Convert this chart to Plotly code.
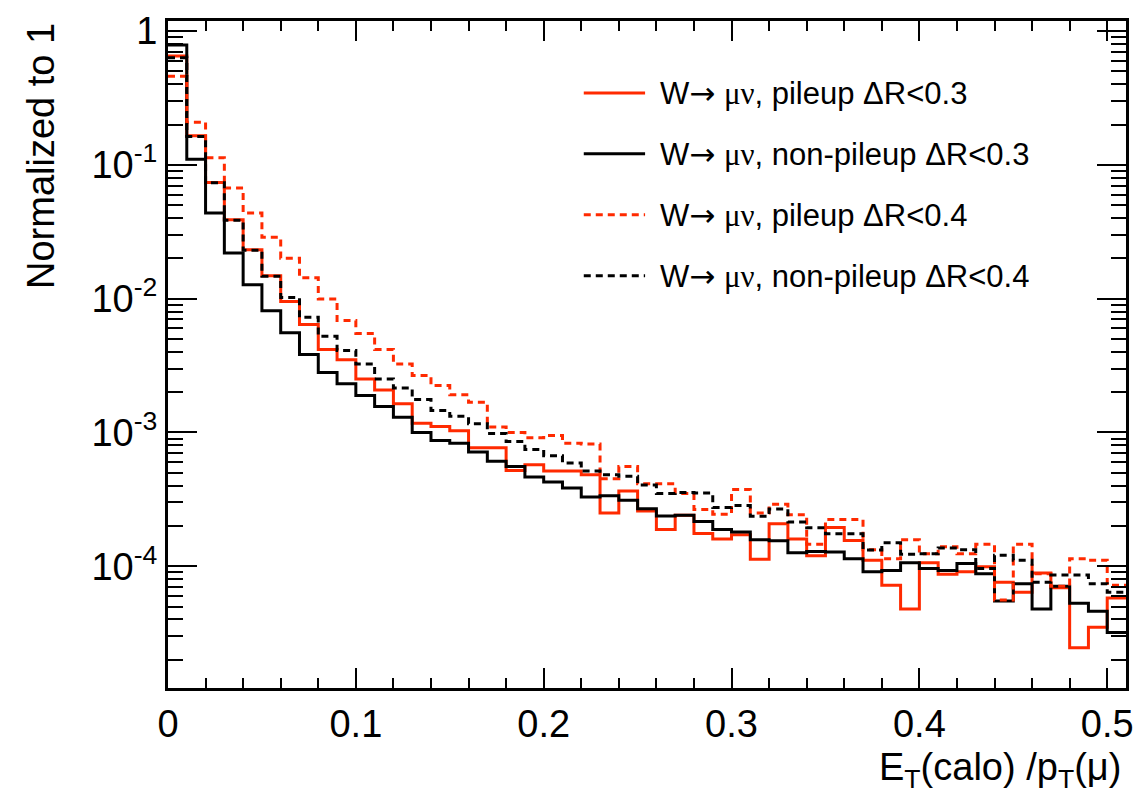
import plotly.graph_objects as go

# ---------------- data ----------------
bin_width = 0.01
n_bins = 51
bin_edges = [round(bin_width * i, 2) for i in range(n_bins + 1)]

pileup_03 = [0.65, 0.165, 0.0738, 0.0389, 0.0232, 0.0148, 0.0095, 0.0064, 0.00416, 0.0035,
             0.00251, 0.00208, 0.00164, 0.00117, 0.00111, 0.00103, 0.00077, 0.00077, 0.00052, 0.000574,
             0.000514, 0.000514, 0.000483, 0.00025, 0.000365, 0.000259, 0.000188, 0.00024, 0.000176, 0.00016,
             0.000172, 0.000113, 0.000208, 0.00016, 0.00012, 0.000195, 0.000156, 0.000111, 7.2e-5, 4.8e-5,
             0.000106, 8.7e-5, 9.1e-5, 9.9e-5, 7.6e-5, 6.4e-5, 8.9e-5, 6.9e-5, 2.46e-5, 3.5e-5,
             5.8e-5]

nonpileup_03 = [0.787, 0.110, 0.0436, 0.0219, 0.0127, 0.00813, 0.00557, 0.00382, 0.00281, 0.00231,
                0.00189, 0.00156, 0.0013, 0.0010, 0.00087, 0.000832, 0.000713, 0.00061, 0.000557, 0.000464,
                0.000426, 0.000384, 0.000329, 0.000337, 0.000311, 0.000269, 0.000237, 0.000241, 0.000216, 0.000188,
                0.00018, 0.000158, 0.000155, 0.000126, 0.000129, 0.000128, 0.000114, 9.1e-5, 9.3e-5, 0.000106,
                9.6e-5, 9.3e-5, 0.000105, 8.8e-5, 5.5e-5, 7.4e-5, 4.8e-5, 7.1e-5, 5.3e-5, 4.6e-5,
                3.2e-5]

pileup_04 = [0.46, 0.208, 0.113, 0.067, 0.0436, 0.0287, 0.0200, 0.0143, 0.00995, 0.00685,
             0.0055, 0.00416, 0.00325, 0.00266, 0.00224, 0.00191, 0.00168, 0.0011, 0.001, 0.000912,
             0.00095, 0.000832, 0.00082, 0.000451, 0.000557, 0.000414, 0.000414, 0.000349, 0.000265, 0.000245,
             0.000374, 0.00025, 0.00029, 0.000243, 0.000146, 0.000224, 0.000224, 0.000133, 0.000114, 0.000158,
             0.000124, 0.00014, 0.000124, 0.000146, 5.6e-5, 0.000146, 8.8e-5, 7.1e-5, 0.000114, 0.000111,
             7.2e-5]

nonpileup_04 = [0.632, 0.163, 0.0735, 0.0385, 0.0230, 0.0147, 0.0102, 0.00725, 0.00523, 0.00409,
                0.00325, 0.00251, 0.00215, 0.00176, 0.00146, 0.00132, 0.00116, 0.00098, 0.000857, 0.000747,
                0.00067, 0.00059, 0.000514, 0.000483, 0.00047, 0.000405, 0.00035, 0.000355, 0.000353, 0.000275,
                0.000285, 0.000236, 0.000268, 0.000214, 0.000194, 0.000175, 0.000175, 0.000132, 0.00015, 0.000123,
                0.000124, 0.000137, 0.000133, 9.6e-5, 0.000121, 0.000111, 7.6e-5, 8.6e-5, 8.6e-5, 7.4e-5,
                6.4e-5]

series_labels = ["pileup \u0394R<0.3", "non-pileup \u0394R<0.3",
                 "pileup \u0394R<0.4", "non-pileup \u0394R<0.4"]
series_names = ["W\u2192 \u03bc\u03bd, " + s for s in series_labels]
series_values = [pileup_03, nonpileup_03, pileup_04, nonpileup_04]

y_tick_vals = [1, 0.1, 0.01, 0.001, 0.0001]
y_tick_text = ["1", "10<sup>-1</sup>", "10<sup>-2</sup>", "10<sup>-3</sup>", "10<sup>-4</sup>"]

# ---------------- style ----------------
RED = "#ff2a00"
BLACK = "#000000"
styles = [dict(color=RED, dash="solid"),
          dict(color=BLACK, dash="solid"),
          dict(color=RED, dash="7px,5px"),
          dict(color=BLACK, dash="7px,5px")]
FONT = "Liberation Sans, Arial, Helvetica, sans-serif"

fig = go.Figure()
for name, vals, st in zip(series_names, series_values, styles):
    xs = bin_edges[:-1] + [bin_edges[-1]]
    ys = list(vals) + [vals[-1]]
    fig.add_trace(go.Scatter(x=xs, y=ys, mode="lines", name=name,
                             line=dict(shape="hv", width=3, color=st["color"], dash=st["dash"]),
                             showlegend=False))

# minor log ticks
minor_vals = []
for k in range(-5, 1):
    for m in range(2, 10):
        minor_vals.append(m * 10 ** k)

fig.update_xaxes(range=[0, 0.51], showline=True, linecolor="black", linewidth=3, mirror="allticks",
                 ticks="inside", ticklen=20, tickwidth=2, tickcolor="black",
                 tick0=0, dtick=0.1, showgrid=False, zeroline=False,
                 minor=dict(ticks="inside", ticklen=10, tickwidth=2, tickcolor="black", dtick=0.02, showgrid=False),
                 tickfont=dict(family=FONT, size=38, color="black"))
fig.update_yaxes(type="log", range=[-4.91, 0.075], showline=True, linecolor="black", linewidth=3,
                 mirror="allticks", ticks="inside", ticklen=29, tickwidth=2, tickcolor="black",
                 tickmode="array", tickvals=y_tick_vals, ticktext=y_tick_text,
                 showgrid=False, zeroline=False,
                 minor=dict(ticks="inside", ticklen=15, tickwidth=2, tickcolor="black",
                            tickmode="array", tickvals=minor_vals, showgrid=False),
                 tickfont=dict(family=FONT, size=38, color="black"))

# legend drawn manually
leg_y = [0.892, 0.801, 0.7096, 0.618]
for lab, st, yy in zip(series_labels, styles, leg_y):
    fig.add_shape(type="line", xref="paper", yref="paper", x0=0.434, x1=0.498, y0=yy, y1=yy,
                  line=dict(color=st["color"], width=3, dash=st["dash"]))
    txt = ("W<span style=\"font-family:'DejaVu Sans'\">\u2192</span> "
           "<span style=\"font-family:'Liberation Serif'\">\u03bc\u03bd</span>, " + lab)
    fig.add_annotation(xref="paper", yref="paper", x=0.511, y=yy, text=txt, showarrow=False,
                       xanchor="left", yanchor="middle", font=dict(family=FONT, size=31, color="black"))

# axis titles
fig.add_annotation(xref="paper", yref="paper", x=-0.1326, y=1.0, text="Normalized to 1",
                   textangle=-90, showarrow=False, xanchor="center", yanchor="top",
                   font=dict(family=FONT, size=38, color="black"))
fig.add_annotation(xref="paper", yref="paper", x=0.997, y=-0.1228,
                   text="E<sub>T</sub>(calo) /p<sub>T</sub>(\u03bc)", showarrow=False,
                   xanchor="right", yanchor="middle", font=dict(family=FONT, size=38, color="black"))

fig.update_layout(width=1143, height=802, margin=dict(l=168, r=10, t=20, b=114),
                  paper_bgcolor="white", plot_bgcolor="white", showlegend=False)

fig.write_html("out.html")
